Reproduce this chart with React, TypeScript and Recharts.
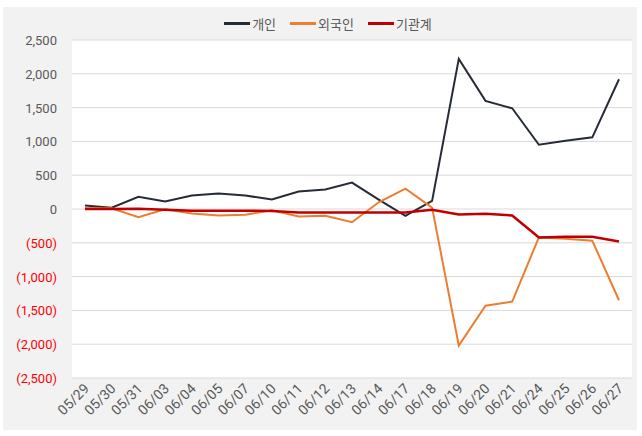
import React from "react";
import { LineChart, Line, XAxis, YAxis, CartesianGrid } from "recharts";

const dates = [
  "05/29", "05/30", "05/31", "06/03", "06/04", "06/05", "06/07", "06/10", "06/11", "06/12", "06/13",
  "06/14", "06/17", "06/18", "06/19", "06/20", "06/21", "06/24", "06/25", "06/26", "06/27",
];
const individual = [50, 20, 180, 110, 200, 230, 200, 140, 260, 290, 390, 140, -100, 120, 2220, 1600, 1490, 950, 1010, 1060, 1920];
const foreign = [10, 10, -120, -5, -65, -95, -85, -20, -110, -100, -195, 100, 300, 20, -2020, -1430, -1370, -420, -440, -470, -1350];
const institution = [0, 0, 5, -10, -25, -25, -25, -30, -50, -50, -50, -50, -50, -10, -80, -70, -95, -420, -410, -410, -480];
const yTicks = [-2500, -2000, -1500, -1000, -500, 0, 500, 1000, 1500, 2000, 2500];

const series = [
  { key: "individual", name: "개인", color: "#262b38", width: 2 },
  { key: "foreign", name: "외국인", color: "#ed7d31", width: 2 },
  { key: "institution", name: "기관계", color: "#c00000", width: 2.5 },
];

const data = dates.map((d, i) => ({
  date: d,
  individual: individual[i],
  foreign: foreign[i],
  institution: institution[i],
}));

const FONT = "Roboto, 'Noto Sans CJK KR', sans-serif";

function fmt(v: number) {
  const s = Math.abs(v).toLocaleString("en-US");
  return v < 0 ? `(${s})` : s;
}

function YTick(props: any) {
  const { x, y, payload } = props;
  const v = payload.value as number;
  return (
    <text x={x} y={y} dy={5} textAnchor="end" fontSize={13} fontFamily={FONT} fill={v < 0 ? "#ff0000" : "#595959"}>
      {fmt(v)}
    </text>
  );
}

function XTick(props: any) {
  const { x, y, payload } = props;
  return (
    <g transform={`translate(${x},${y})`}>
      <text x={0} y={0} dx={1} dy={6} textAnchor="end" transform="rotate(-45)" fontSize={14} fontFamily={FONT} fill="#595959">
        {payload.value}
      </text>
    </g>
  );
}

export default function App() {
  return (
    <div style={{ position: "absolute", left: 0, top: 0, width: 642, height: 436, background: "#fff" }}>
      <div style={{ position: "absolute", left: 3, top: 7, width: 634, height: 423, background: "#f2f2f2" }}>
        <div
          style={{
            position: "absolute",
            top: 7,
            left: 8,
            width: 634,
            display: "flex",
            justifyContent: "center",
            gap: 14,
            fontFamily: FONT,
            fontSize: 13,
            color: "#595959",
          }}
        >
          {series.map((s) => (
            <div key={s.key} style={{ display: "flex", alignItems: "center", gap: 2 }}>
              <div style={{ width: 26, height: 3, background: s.color }} />
              <span>{s.name}</span>
            </div>
          ))}
        </div>
        <LineChart width={634} height={423} data={data} margin={{ top: 33, right: 5, left: 0, bottom: 7 }}>
          <CartesianGrid vertical={false} stroke="#d9d9d9" fill="#ffffff" />
          <XAxis
            dataKey="date"
            axisLine={false}
            tickLine={false}
            interval={0}
            height={45}
            padding={{ left: 13, right: 13 }}
            tick={<XTick />}
          />
          <YAxis
            domain={[-2500, 2500]}
            ticks={yTicks}
            axisLine={false}
            tickLine={false}
            tickSize={0}
            tickMargin={15}
            width={69}
            tick={<YTick />}
          />
          {series.map((s) => (
            <Line
              key={s.key}
              type="linear"
              dataKey={s.key}
              name={s.name}
              stroke={s.color}
              strokeWidth={s.width}
              dot={false}
              isAnimationActive={false}
            />
          ))}
        </LineChart>
      </div>
    </div>
  );
}
